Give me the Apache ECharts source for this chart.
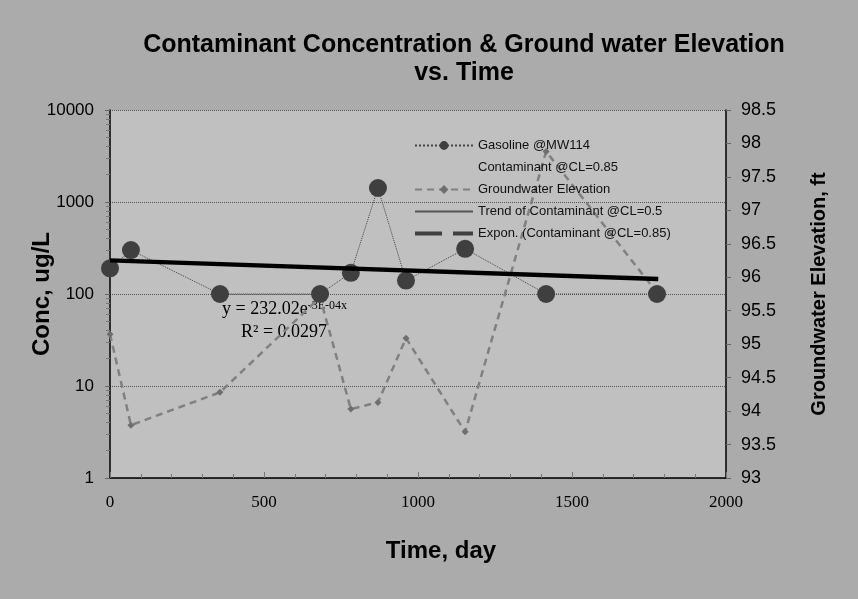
<!DOCTYPE html>
<html>
<head>
<meta charset="utf-8">
<script src="https://cdn.jsdelivr.net/npm/echarts@6/dist/echarts.min.js"></script>
<style>
html, body { margin: 0; padding: 0; background: #ababab; }
#main { width: 858px; height: 599px; }
</style>
</head>
<body>
<div id="main"></div>
<script>
// 数据
var gasDays = [0, 68, 357, 682, 782, 870, 961, 1153, 1416, 1776];
var gasConc = [190, 300, 100, 100, 170, 1420, 140, 310, 100, 100];
var gwDays = [0, 68, 357, 682, 782, 870, 961, 1153, 1416, 1776];
var gwElev = [95.15, 93.79, 94.28, 95.7, 94.03, 94.13, 95.09, 93.69, 97.88, 95.77];
var trendDays = [0, 1780];
var trendConc = [232, 146];

function pairs(xs, ys) {
	return xs.map(function (x, i) { return [x, ys[i]]; });
}

var myChart = echarts.init(document.getElementById('main'));

var option = {
	backgroundColor: '#ababab',
	animation: false,
	title: {
		text: 'Contaminant Concentration & Ground water Elevation\nvs. Time',
		left: 459,
		textAlign: 'center',
		top: 26,
		textStyle: {
			fontFamily: 'Liberation Sans',
			fontSize: 25,
			fontWeight: 'bold',
			color: '#000',
			lineHeight: 28
		}
	},
	legend: {
		orient: 'vertical',
		left: 408,
		top: 134,
		itemWidth: 58,
		itemHeight: 11,
		itemGap: 9,
		textStyle: { fontFamily: 'Liberation Sans', fontSize: 13, color: '#111' },
		data: [
			{ name: 'Gasoline @MW114' },
			{ name: 'Contaminant @CL=0.85', icon: 'none' },
			{ name: 'Groundwater Elevation' },
			{ name: 'Trend of Contaminant @CL=0.5', itemStyle: { opacity: 0 } },
			{ name: 'Expon. (Contaminant @CL=0.85)', itemStyle: { opacity: 0 }, lineStyle: { color: '#404040', width: 4, type: [27, 11] } }
		]
	},
	grid: {
		left: 110,
		right: 132,
		top: 110,
		bottom: 121,
		show: true,
		backgroundColor: '#c0c0c0',
		borderWidth: 0
	},
	xAxis: {
		type: 'value',
		min: 0,
		max: 2000,
		interval: 500,
		name: 'Time, day',
		nameLocation: 'middle',
		nameGap: 61,
		nameTextStyle: { fontFamily: 'Liberation Sans', fontSize: 24, fontWeight: 'bold', color: '#000', padding: [0, 0, 0, 46] },
		axisLine: { lineStyle: { color: '#000', width: 1.5 } },
		axisTick: { inside: true, length: 6, lineStyle: { color: '#777' } },
		minorTick: { show: true, splitNumber: 5, length: 4, lineStyle: { color: '#777' } },
		axisLabel: { fontFamily: 'Liberation Serif', fontSize: 17, color: '#000', margin: 16, formatter: function (v) { return String(v); } },
		splitLine: { show: false }
	},
	yAxis: [{
		type: 'log',
		logBase: 10,
		min: 1,
		max: 10000,
		name: 'Conc, ug/L',
		nameLocation: 'middle',
		nameGap: 56,
		nameMoveOverlap: false,
		nameTextStyle: { fontFamily: 'Liberation Sans', fontSize: 24, fontWeight: 'bold', color: '#000' },
		axisLine: { show: true, lineStyle: { color: '#000', width: 1.5 } },
		axisTick: { inside: false, length: 5, lineStyle: { color: '#666' } },
		minorTick: { show: true, splitNumber: 9, length: 4, lineStyle: { color: '#777' } },
		axisLabel: { fontFamily: 'Liberation Sans', fontSize: 17, color: '#000', margin: 16, formatter: function (v) { return String(v); } },
		splitLine: { show: true, lineStyle: { color: '#555', type: 'dotted', width: 1 } }
	}, {
		type: 'value',
		min: 93,
		max: 98.5,
		interval: 0.5,
		position: 'right',
		name: 'Groundwater Elevation, ft',
		nameLocation: 'middle',
		nameGap: 83,
		nameRotate: 90,
		nameTextStyle: { fontFamily: 'Liberation Sans', fontSize: 20, fontWeight: 'bold', color: '#000' },
		axisLine: { show: true, lineStyle: { color: '#000', width: 1.5 } },
		axisTick: { show: true, inside: false, length: 5, lineStyle: { color: '#666' } },
		axisLabel: { fontFamily: 'Liberation Sans', fontSize: 18, color: '#000', margin: 15 },
		splitLine: { show: false }
	}],
	graphic: [{
		type: 'text',
		left: 222,
		top: 300,
		style: {
			text: '{a|y = 232.02e}{b|-3E-04x}',
			rich: {
				a: { fontFamily: 'Liberation Serif', fontSize: 18, fill: '#000', verticalAlign: 'bottom' },
				b: { fontFamily: 'Liberation Serif', fontSize: 12, fill: '#000', verticalAlign: 'top', padding: [0, 0, 6, 0] }
			}
		}
	}, {
		type: 'text',
		left: 241,
		top: 323,
		style: { text: 'R² = 0.0297', fontFamily: 'Liberation Serif', fontSize: 18, fill: '#000' }
	}],
	series: [{
		name: 'Groundwater Elevation',
		type: 'line',
		yAxisIndex: 1,
		data: pairs(gwDays, gwElev),
		symbol: 'diamond',
		symbolSize: 7,
		itemStyle: { color: '#6e6e6e' },
		lineStyle: { color: '#808080', width: 2.5, type: [7, 5] },
		z: 2
	}, {
		name: 'Gasoline @MW114',
		type: 'line',
		data: pairs(gasDays, gasConc),
		symbol: 'circle',
		symbolSize: 18,
		itemStyle: { color: '#3f3f3f' },
		lineStyle: { color: '#444', width: 1, type: 'dotted' },
		z: 3
	}, {
		name: 'Contaminant @CL=0.85',
		type: 'line',
		data: [],
		symbol: 'none',
		lineStyle: { opacity: 0 }
	}, {
		name: 'Trend of Contaminant @CL=0.5',
		type: 'line',
		data: [],
		symbol: 'none',
		itemStyle: { color: '#555' },
		lineStyle: { color: '#555', width: 1 }
	}, {
		name: 'Expon. (Contaminant @CL=0.85)',
		type: 'line',
		data: pairs(trendDays, trendConc),
		symbol: 'none',
		itemStyle: { color: '#000' },
		lineStyle: { color: '#000', width: 4.5 },
		z: 4
	}]
};

myChart.setOption(option);
</script>
</body>
</html>
